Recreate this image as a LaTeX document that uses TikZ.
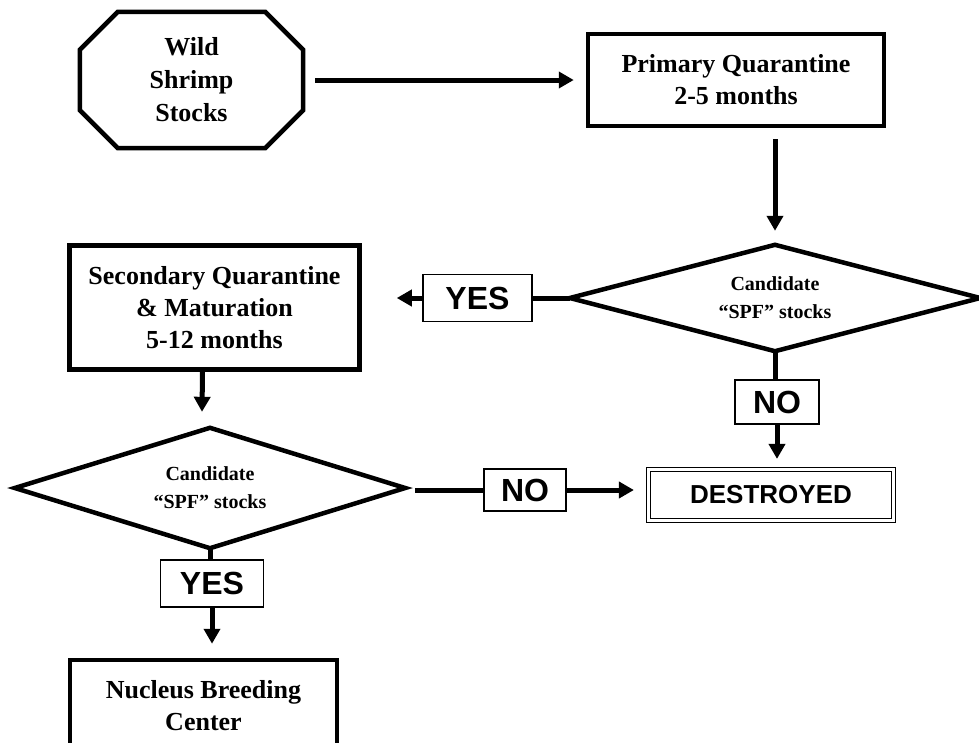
\documentclass[tikz,border=0pt]{standalone}
\usepackage{fontspec}
\setmainfont{Liberation Serif}
\newfontfamily\arialf{Liberation Sans}
\usetikzlibrary{arrows.meta,calc}
\newcommand\fSer{\fontsize{26}{32}\selectfont\bfseries}
\newcommand\fWild{\fontsize{26}{33}\selectfont\bfseries}
\newcommand\fSmall{\fontsize{20}{28}\selectfont\bfseries}
\newcommand\fLab{\arialf\fontsize{32}{36}\selectfont\bfseries}
\newcommand\fDes{\arialf\fontsize{26}{30}\selectfont\bfseries}
\begin{document}
\begin{tikzpicture}[x=1pt,y=-1pt,
  mainbox/.style={draw, line width=4.5pt, align=center, font=\fSer, inner sep=0pt},
  labbox/.style={draw, line width=1.5pt, fill=white, font=\fLab, inner sep=0pt},
  diatext/.style={align=center, font=\fSmall, inner sep=0pt},
  diaedge/.style={line width=4.5pt, line join=miter},
  arr/.style={line width=5pt, -{Triangle[length=15pt,width=16pt]}},
  con/.style={line width=5pt}]
\clip (0,0) rectangle (979,742);
\fill[white] (0,0) rectangle (979,742);

% Wild shrimp stocks (octagon)
\node[minimum width=223pt, minimum height=136pt, inner sep=0pt, align=center, font=\fWild] (wild) at (191.5,80) {Wild\\Shrimp\\Stocks};
\draw[diaedge] ($(wild.north west)+(38,0)$) -- ($(wild.north east)+(-38,0)$) -- ($(wild.north east)+(0,38)$) -- ($(wild.south east)+(0,-38)$) -- ($(wild.south east)+(-38,0)$) -- ($(wild.south west)+(38,0)$) -- ($(wild.south west)+(0,-38)$) -- ($(wild.north west)+(0,38)$) -- cycle;

% Primary quarantine
\node[mainbox, minimum width=296pt, minimum height=92pt] (prim) at (736,80) {Primary Quarantine\\2-5 months};
\draw[arr] ([xshift=12pt]wild.east) -- ([xshift=-12pt]prim.west);

% Diamond 1
\node[diatext, minimum width=410pt, minimum height=106pt] (d1) at (775,298) {Candidate\\“SPF” stocks};
\draw[diaedge] (d1.north) -- (d1.east) -- (d1.south) -- (d1.west) -- cycle;
\draw[arr] ([yshift=-11pt]prim.south -| d1.north) -- ([yshift=14pt]d1.north);

% YES 1
\node[labbox, minimum width=109pt, minimum height=47pt] (yes1) at (477.5,298) {YES};
\draw[con] (d1.west) -- (yes1.east);

% Secondary quarantine
\node[mainbox, minimum width=290pt, minimum height=124pt] (sec) at (214.5,307.5) {Secondary Quarantine\\\& Maturation\\5-12 months};
\draw[arr] (yes1.west) -- ([xshift=35pt]sec.east |- yes1.west);

% Diamond 2
\node[diatext, minimum width=390pt, minimum height=120pt] (d2) at (210,488) {Candidate\\“SPF” stocks};
\draw[diaedge] (d2.north) -- (d2.east) -- (d2.south) -- (d2.west) -- cycle;
\draw[arr] ([xshift=-12pt]sec.south) -- ([xshift=-8pt,yshift=16pt]d2.north);

% YES 2
\node[labbox, minimum width=103pt, minimum height=47pt] (yes2) at (212,583.5) {YES};
\draw[con] (d2.south) -- (d2.south |- yes2.north);

% Nucleus breeding center
\node[mainbox, minimum width=267pt, minimum height=92pt] (nuc) at (203.5,706) {Nucleus Breeding\\Center};
\draw[arr] (yes2.south) -- ([yshift=14pt]nuc.north -| yes2.south);

% NO 1 and destroyed
\node[labbox, minimum width=84pt, minimum height=44pt] (no1) at (777,402) {NO};
\draw[con] (d1.south) -- (d1.south |- no1.north);
\node[draw, line width=1.2pt, double, double distance=2.5pt, minimum width=245pt, minimum height=51pt, font=\fDes, inner sep=0pt] (des) at (771,495) {DESTROYED};
\draw[arr] (no1.south) -- ([yshift=10pt]des.north -| no1.south);

% NO 2
\node[labbox, minimum width=82pt, minimum height=42pt] (no2) at (525,490) {NO};
\draw[con] ([xshift=10pt]d2.east |- no2.west) -- (no2.west);
\draw[arr] (no2.east) -- ([xshift=-14pt]des.west |- no2.east);
\end{tikzpicture}
\end{document}
